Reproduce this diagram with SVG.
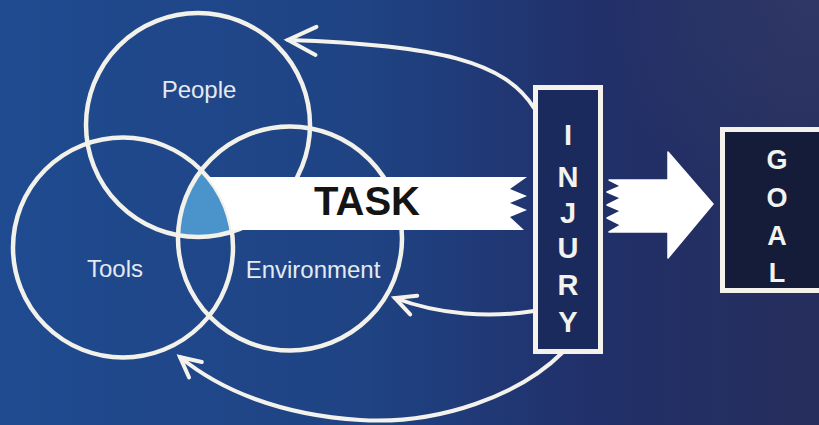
<svg xmlns="http://www.w3.org/2000/svg" width="819" height="425" viewBox="0 0 819 425">
  <defs>
    <linearGradient id="bg" x1="0" y1="0" x2="1" y2="0">
      <stop offset="0" stop-color="#1f4b90"/>
      <stop offset="0.45" stop-color="#1f4383"/>
      <stop offset="0.72" stop-color="#21306a"/>
      <stop offset="1" stop-color="#262e5c"/>
    </linearGradient>
    <radialGradient id="glow" cx="819" cy="0" r="220" gradientUnits="userSpaceOnUse">
      <stop offset="0" stop-color="#3a4270" stop-opacity="0.45"/>
      <stop offset="1" stop-color="#3a4270" stop-opacity="0"/>
    </radialGradient>
    <clipPath id="cT"><circle cx="123" cy="247.5" r="110"/></clipPath>
    <clipPath id="cE"><circle cx="290" cy="238.5" r="112"/></clipPath>
    <marker id="chev" markerUnits="userSpaceOnUse" viewBox="-26 -16 30 32" refX="0" refY="0" markerWidth="30" markerHeight="32" orient="auto" overflow="visible">
      <path d="M -20 -10 L 0 0 L -20 10" fill="none" stroke="#f4f2ec" stroke-width="4" stroke-linecap="round" stroke-linejoin="miter"/>
    </marker>
    <marker id="chevL" markerUnits="userSpaceOnUse" viewBox="-34 -18 38 36" refX="0" refY="0" markerWidth="38" markerHeight="36" orient="auto" overflow="visible">
      <path d="M -28 -14 L 0 0 L -28 14" fill="none" stroke="#f4f2ec" stroke-width="4" stroke-linecap="round" stroke-linejoin="miter"/>
    </marker>
    <style>
      .ring { fill: none; stroke: #f2f1ea; stroke-width: 4.5; }
      .lbl { font-family: "Liberation Sans", Arial, sans-serif; font-size: 24px; fill: #e4eaf2; text-anchor: middle; }
      .vert { font-family: "Liberation Sans", Arial, sans-serif; font-weight: bold; fill: #f2f2ee; text-anchor: middle; }
      .conn { fill: none; stroke: #f4f2ec; stroke-width: 4; stroke-linecap: round; }
      .box { stroke: #f4f2ea; stroke-width: 5; }
    </style>
  </defs>

  <rect width="819" height="425" fill="url(#bg)"/>
  <rect width="819" height="425" fill="url(#glow)"/>

  <g id="connectors">
    <path class="conn" d="M 534 108 C 505 62, 440 45, 288 40" marker-end="url(#chevL)"/>
    <path class="conn" d="M 534 311 C 490 318, 440 315, 395 298" marker-end="url(#chev)"/>
    <path class="conn" d="M 563 352 C 520 395, 440 425, 360 420 C 280 415, 220 390, 180 357" marker-end="url(#chev)"/>
  </g>

  <g id="center">
    <g clip-path="url(#cT)">
      <g clip-path="url(#cE)">
        <circle cx="198" cy="125" r="112" fill="#4a93cb"/>
      </g>
    </g>
  </g>

  <g id="people">
    <circle class="ring" cx="198" cy="125" r="112"/>
    <text class="lbl" x="199" y="98">People</text>
  </g>
  <g id="tools">
    <circle class="ring" cx="123" cy="247.5" r="110"/>
    <text class="lbl" x="115" y="277">Tools</text>
  </g>
  <g id="environment">
    <circle class="ring" cx="290" cy="238.5" r="112"/>
    <text class="lbl" x="313" y="278">Environment</text>
  </g>

  <g id="task">
    <path d="M 207.4 177 L 527 177 L 510 189 L 527 196 L 510 203 L 527 210 L 510 217 L 524 230 L 231.6 230 A 110 110 0 0 0 207.4 177 Z" fill="#ffffff"/>
    <text x="367" y="215" font-family="'Liberation Sans', Arial, sans-serif" font-size="40" font-weight="bold" fill="#141414" text-anchor="middle">TASK</text>
  </g>

  <g id="injury">
    <rect class="box" x="535.5" y="87.5" width="65" height="264" fill="#1b2a5c"/>
    <text class="vert" font-size="29" x="568" y="145">I</text>
    <text class="vert" font-size="29" x="568" y="187">N</text>
    <text class="vert" font-size="29" x="568" y="223">J</text>
    <text class="vert" font-size="29" x="568" y="258">U</text>
    <text class="vert" font-size="29" x="568" y="295">R</text>
    <text class="vert" font-size="29" x="568" y="332">Y</text>
  </g>

  <g id="arrow">
    <path d="M 609 180 L 668 180 L 668 152 L 713 204 L 668 258 L 668 232 L 609 232 L 621 225 L 607 218 L 621 211 L 607 205 L 621 198 L 607 192 L 621 186 Z" fill="#ffffff" stroke="#ffffff" stroke-width="1.5" stroke-linejoin="round"/>
  </g>

  <g id="goal">
    <rect class="box" x="722.5" y="129.5" width="130" height="161" fill="#141c3a"/>
    <text class="vert" font-size="27" x="777" y="169">G</text>
    <text class="vert" font-size="27" x="777" y="207">O</text>
    <text class="vert" font-size="27" x="777" y="245">A</text>
    <text class="vert" font-size="27" x="777" y="282">L</text>
  </g>
</svg>
